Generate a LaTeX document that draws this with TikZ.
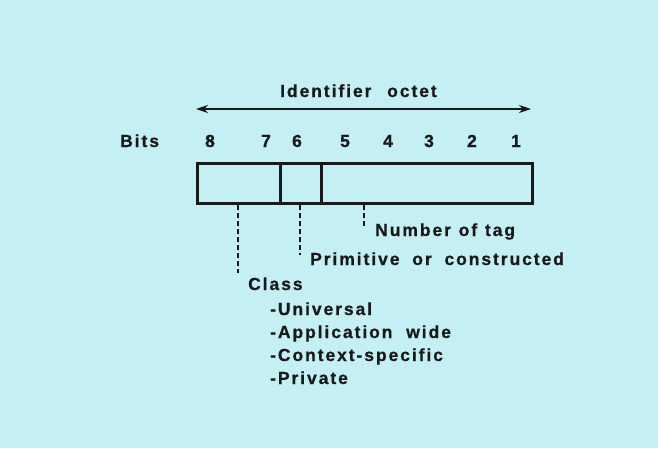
\documentclass[tikz,border=0pt]{standalone}
\usepackage{fontspec}
\newfontfamily\lbl{Liberation Sans}[LetterSpace=11,BoldFeatures={FakeBold=0.7}]
\usetikzlibrary{arrows.meta}
\definecolor{bgc}{RGB}{196,239,243}
\definecolor{ink}{RGB}{25,25,25}
\tikzset{
  txt/.style={inner sep=0pt, anchor=base west, font=\lbl\bfseries\fontsize{17.5}{20}\selectfont, text=ink},
  dig/.style={inner sep=0pt, anchor=base, font=\lbl\bfseries\fontsize{17.5}{20}\selectfont, text=ink},
  field/.style={draw=ink, line width=2.6pt, inner sep=0pt, minimum height=40pt, anchor=north west},
  lead/.style={draw=ink, line width=1.2pt, dash pattern=on 5pt off 3pt},
  span/.style={draw=ink, line width=1.7pt, {Stealth[length=12pt,width=8pt]}-{Stealth[length=12pt,width=8pt]}}
}
\begin{document}
\begin{tikzpicture}[x=1pt,y=-1pt]
\fill[bgc] (0,0) rectangle (658,448);
\useasboundingbox (0,0) rectangle (658,448);
% title and arrow
\node[txt] (title) at (280,97) {Identifier\hspace{9pt} octet};
\coordinate (aL) at (196,109);
\coordinate (aR) at (531,109);
\draw[span] (aL) -- (aR);
% bits
\node[txt] (bits) at (120,147) {Bits};
\node[dig] (b8) at (210,147) {8};
\node[dig] (b7) at (266,147) {7};
\node[dig] (b6) at (297,147) {6};
\node[dig] (b5) at (345,147) {5};
\node[dig] (b4) at (388,147) {4};
\node[dig] (b3) at (429,147) {3};
\node[dig] (b2) at (472,147) {2};
\node[dig] (b1) at (516,147) {1};
% fields
\node[field, minimum width=83pt] (cls) at (196,162) {};
\node[field, minimum width=41pt] (pc) at (279,162) {};
\node[field, minimum width=211pt] (tag) at (320,162) {};
% leaders
\coordinate (tEnd) at (364,227);
\coordinate (pEnd) at (300,255);
\coordinate (cEnd) at (238,273);
\draw[lead] (tag.south -| tEnd) -- (tEnd);
\draw[lead] (pc.south -| pEnd) -- (pEnd);
\draw[lead] (cls.south -| cEnd) -- (cEnd);
% labels
\node[txt] (ntag) at (375,236) {Number\hspace{1pt} of\hspace{1pt} tag};
\node[txt] (prim) at (310,265) {Primitive\hspace{6pt} or\hspace{6pt} constructed};
\node[txt] (class) at (248,290) {Class};
\node[txt] (uni) at (270,315) {-Universal};
\node[txt] (app) at (270,338) {-Application\hspace{7pt} wide};
\node[txt] (ctx) at (270,361) {-Context-specific};
\node[txt] (prv) at (270,384) {-Private};
\end{tikzpicture}
\end{document}
